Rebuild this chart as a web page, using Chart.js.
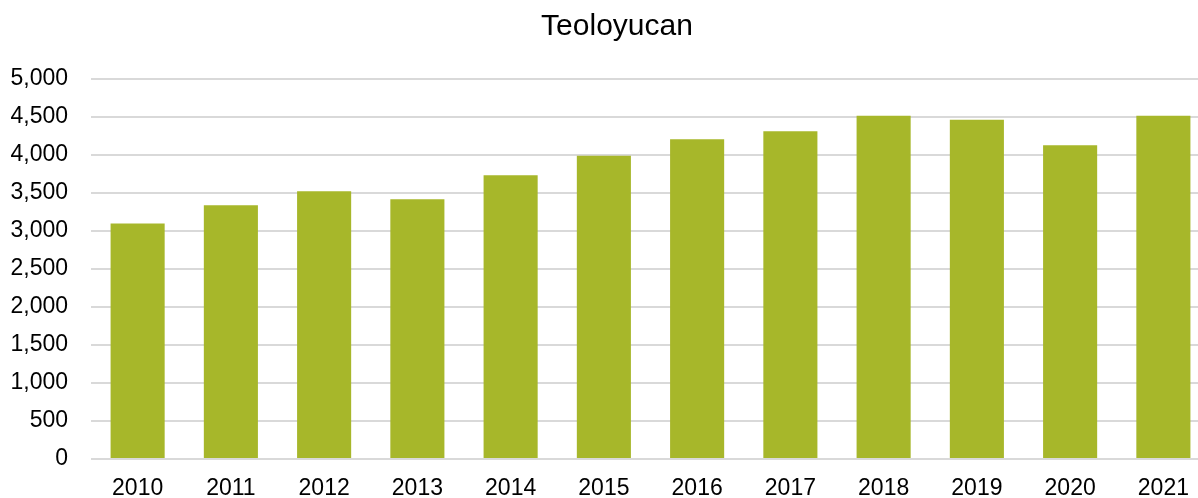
<!DOCTYPE html>
<html>
<head>
<meta charset="utf-8">
<script src="https://cdn.jsdelivr.net/npm/chart.js@4/dist/chart.umd.min.js"></script>
<style>
  html, body { margin: 0; padding: 0; background: #fff; overflow: hidden; }
  #wrap { width: 1234px; height: 498px; }
</style>
</head>
<body>
<div id="wrap"><canvas id="myChart"></canvas></div>
<script>
// data
var years = ["2010", "2011", "2012", "2013", "2014", "2015", "2016", "2017", "2018", "2019", "2020", "2021"];
var values = [3100, 3338, 3522, 3417, 3733, 3991, 4206, 4311, 4517, 4465, 4127, 4517];
var yMax = 5000;
var yStep = 500;

var ctx = document.getElementById('myChart').getContext('2d');

var chart = new Chart(ctx, {
    type: 'bar',
    data: {
        labels: years,
        datasets: [{
            label: 'Teoloyucan',
            data: values,
            backgroundColor: '#a7b72a',
            borderWidth: 0,
            barPercentage: 0.58,
            categoryPercentage: 1
        }]
    },
    options: {
        responsive: true,
        maintainAspectRatio: false,
        animation: false,
        // plot runs a bit past the right edge of the window, like the original
        layout: { padding: 0 },
        plugins: {
            legend: { display: false },
            tooltip: { enabled: false },
            title: {
                display: true,
                text: 'Teoloyucan',
                color: '#000',
                font: { family: 'Liberation Sans', size: 30, weight: 'normal' },
                padding: { top: 9, bottom: 34 }
            }
        },
        scales: {
            x: {
                grid: { display: false, drawTicks: false },
                border: { display: false },
                ticks: {
                    color: '#000',
                    font: { family: 'Liberation Sans', size: 23 },
                    padding: 16,
                    maxRotation: 0
                },
                afterFit: function (scale) { scale.height = 39; }
            },
            y: {
                min: 0,
                max: yMax,
                grid: { color: '#d9d9d9', lineWidth: 2, drawTicks: false },
                border: { display: false },
                ticks: {
                    stepSize: yStep,
                    color: '#000',
                    font: { family: 'Liberation Sans', size: 23 },
                    padding: 23,
                    callback: function (v) { return v.toLocaleString('en-US'); }
                },
                afterFit: function (scale) { scale.width = 91; }
            },
            // empty spacer on the right so the title sits where it does in the original
            yRight: {
                type: 'linear',
                position: 'right',
                grid: { display: false, drawTicks: false },
                border: { display: false },
                ticks: { display: false },
                afterFit: function (scale) { scale.width = 24; }
            }
        }
    }
});
</script>
</body>
</html>
